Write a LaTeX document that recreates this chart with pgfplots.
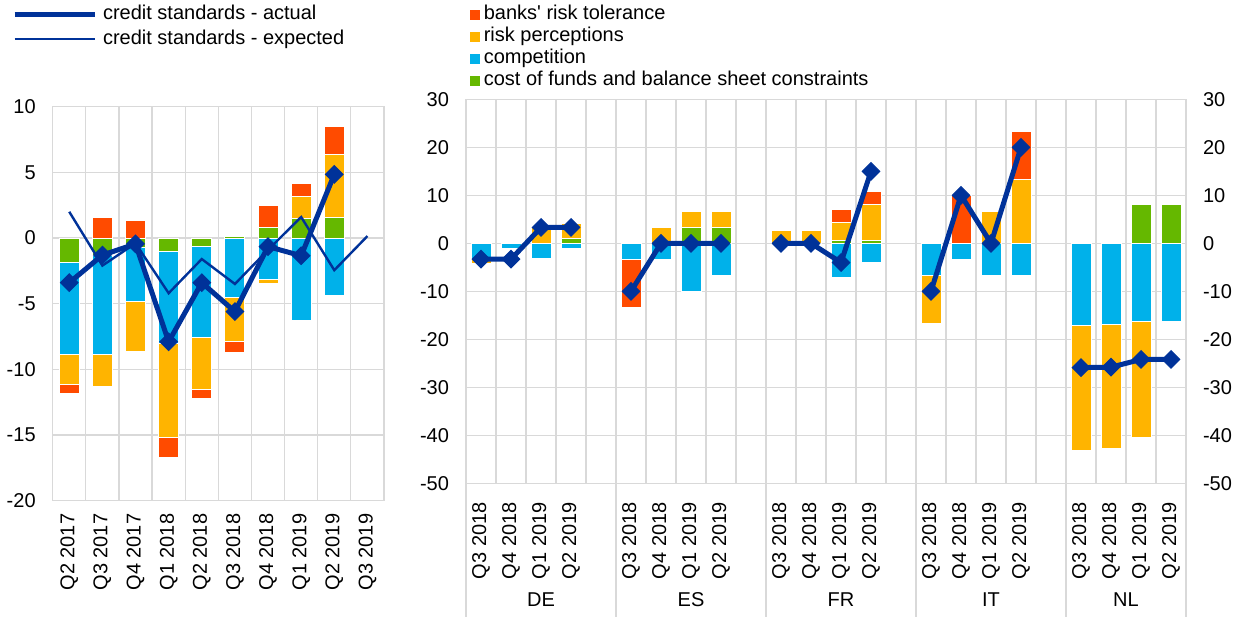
\documentclass[border=0pt]{standalone}
\usepackage{fontspec}
\setmainfont{Liberation Sans}
\newfontfamily\plainsans{Liberation Sans}
\usepackage{pgfplots}
\usepackage{pgfplotstable}
\pgfplotsset{compat=1.18}
\definecolor{ecbblue}{HTML}{003299}
\definecolor{ecbred}{HTML}{FF4B00}
\definecolor{ecbyellow}{HTML}{FFB400}
\definecolor{ecbcyan}{HTML}{00B1EA}
\definecolor{ecbgreen}{HTML}{65B800}
\definecolor{gridgray}{HTML}{D9D9D9}

% left panel: components split into negative (n) and positive (p) parts
\pgfplotstableread{
x Gn Bn Yn Rn Gp Bp Yp Rp
0 -1.9 -7.0 -2.25 -0.65 0 0 0 0
1 -1.3 -7.6 -2.4 0 0 0 0 1.6
2 -0.7 -4.1 -3.85 0 0 0 0 1.3
3 -1.0 -7.05 -7.1 -1.55 0 0 0 0
4 -0.65 -6.9 -3.95 -0.75 0 0 0 0
5 0 -4.5 -3.4 -0.85 0.15 0 0 0
6 0 -3.15 -0.33 0 0.8 0 0 1.65
7 0 -6.25 0 0 1.5 0 1.65 1.0
8 0 -4.4 0 0 1.6 0 4.75 2.15
}\leftdata
\pgfplotstableread{
x A E
0 -3.4 2.0
1 -1.3 -2.1
2 -0.45 -0.4
3 -7.9 -4.2
4 -3.4 -1.6
5 -5.6 -3.5
6 -0.65 -0.9
7 -1.35 1.6
8 4.85 -2.45
9 nan 0.15
}\leftline
% right panel
\pgfplotstableread{
x Gn Bn Yn Rn Gp Bp Yp Rp
0 0 -3.3 -0.9 0 0 0 0 0
1 0 -1.0 0 0 0 0 0 0
2 0 -3.2 0 0 0 0 3.3 0
3 0 -1.0 0 0 0.9 0 3.2 0
5 0 -3.3 0 -10.0 0 0 0 0
6 0 -3.3 0 0 0 0 3.3 0
7 0 -10.0 0 0 3.3 0 3.4 0
8 0 -6.7 0 0 3.3 0 3.4 0
10 0 0 0 0 0 0 2.6 0
11 0 0 0 0 0 0 2.6 0
12 0 -7.1 0 0 0.6 0 3.8 2.6
13 0 -4.1 0 0 0.6 0 7.5 2.6
15 0 -6.7 -10.0 0 0 0 0 0
16 0 -3.3 0 0 0 0 0 10.0
17 0 -6.7 0 0 0 0 6.7 0
18 0 -6.7 0 0 0 0 13.3 10.0
20 0 -17.2 -25.9 0 0 0 0 0
21 0 -17.0 -25.8 0 0 0 0 0
22 0 -16.2 -24.2 0 8.0 0 0 0
23 0 -16.2 0 0 8.0 0 0 0
}\rightdata
\pgfplotstableread{
x A
0 -3.3
1 -3.3
2 3.3
3 3.3
4 nan
5 -10
6 0
7 0
8 0
9 nan
10 0
11 0
12 -4.0
13 15.0
14 nan
15 -10
16 10
17 0
18 20
19 nan
20 -25.9
21 -25.8
22 -24.2
23 -24.2
}\rightline

\pgfplotsset{
  every axis/.append style={font=\fontsize{10}{12}\selectfont},
  leftgeom/.style={at={(26.35pt,58.15pt)}, anchor=south west, scale only axis,
    width=165.65pt, height=197pt, xmin=-0.5, xmax=9.5, ymin=-20, ymax=10},
  rightgeom/.style={at={(233pt,66.85pt)}, anchor=south west, scale only axis,
    width=360pt, height=192pt, xmin=-0.5, xmax=23.5, ymin=-50, ymax=30},
  barstyle/.style={draw=white, line width=0.5pt},
  actualstyle/.style={ecbblue, line width=2.5pt, mark=square*, mark size=3.1pt,
    mark options={rotate=45, solid, line width=0.5pt, fill=ecbblue}},
}

\begin{document}
\begin{tikzpicture}
\useasboundingbox (0,0) rectangle (620pt,308.5pt);
% ---------------- left panel ----------------
\begin{axis}[leftgeom, ybar stacked, bar width=10pt,
  ytick={-20,-15,-10,-5,0,5,10}, yticklabels={-20,-15,-10,-5,0,5,10},
  yticklabel style={xshift=-5pt},
  xtick={0,...,9},
  xticklabels={Q2 2017,Q3 2017,Q4 2017,Q1 2018,Q2 2018,Q3 2018,Q4 2018,Q1 2019,Q2 2019,Q3 2019},
  xticklabel style={rotate=90, anchor=east, xshift=-3pt},
  minor xtick={0.5,1.5,...,8.5}, xminorgrids, ymajorgrids,
  grid style={gridgray, line width=0.6pt}, minor grid style={gridgray, line width=0.6pt},
  axis line style={gridgray, line width=0.6pt},
  major tick length=0pt, minor tick length=0pt]
\addplot[barstyle, fill=ecbgreen] table[x=x,y=Gn]{\leftdata};
\addplot[barstyle, fill=ecbcyan] table[x=x,y=Bn]{\leftdata};
\addplot[barstyle, fill=ecbyellow] table[x=x,y=Yn]{\leftdata};
\addplot[barstyle, fill=ecbred] table[x=x,y=Rn]{\leftdata};
\end{axis}
\begin{axis}[leftgeom, hide axis, ybar stacked, bar width=10pt]
\addplot[barstyle, fill=ecbgreen] table[x=x,y=Gp]{\leftdata};
\addplot[barstyle, fill=ecbcyan] table[x=x,y=Bp]{\leftdata};
\addplot[barstyle, fill=ecbyellow] table[x=x,y=Yp]{\leftdata};
\addplot[barstyle, fill=ecbred] table[x=x,y=Rp]{\leftdata};
\end{axis}
\begin{axis}[leftgeom, hide axis,
  legend style={at={(-0.124,1.264)}, anchor=north west, draw=none, fill=none,
    inner sep=0pt, row sep=1.5pt, column sep=2.5pt,
    nodes={inner sep=0.5pt, text height=7.5pt, text depth=2.5pt}},
  legend cell align=left,
  legend image code/.code={\draw[#1] (0pt,0pt) -- (40pt,0pt);}]
\addplot[actualstyle] table[x=x,y=A]{\leftline};
\addlegendentry{credit standards - actual}
\addplot[ecbblue, line width=1.2pt] table[x=x,y=E]{\leftline};
\addlegendentry{credit standards - expected}
\end{axis}
% ---------------- right panel ----------------
\begin{axis}[rightgeom, ybar stacked, bar width=10pt, clip=false,
  ytick={-50,-40,...,30}, yticklabels={-50,-40,-30,-20,-10,0,10,20,30},
  yticklabel style={xshift=-5pt},
  xtick={0,1,2,3,5,6,7,8,10,11,12,13,15,16,17,18,20,21,22,23},
  xticklabels={Q3 2018,Q4 2018,Q1 2019,Q2 2019,Q3 2018,Q4 2018,Q1 2019,Q2 2019,Q3 2018,Q4 2018,Q1 2019,Q2 2019,Q3 2018,Q4 2018,Q1 2019,Q2 2019,Q3 2018,Q4 2018,Q1 2019,Q2 2019},
  xticklabel style={rotate=90, anchor=east, xshift=-6pt},
  extra x ticks={0.5,1.5,2.5,3.5,4.5,5.5,6.5,7.5,8.5,9.5,10.5,11.5,12.5,13.5,14.5,15.5,16.5,17.5,18.5,19.5,20.5,21.5,22.5},
  extra x tick labels={},
  extra x tick style={grid=major, major tick length=0pt},
  ymajorgrids,
  grid style={gridgray, line width=0.6pt},
  axis line style={gridgray, line width=0.6pt},
  major tick length=0pt, minor tick length=0pt]
\addplot[barstyle, fill=ecbgreen] table[x=x,y=Gn]{\rightdata};
\addplot[barstyle, fill=ecbcyan] table[x=x,y=Bn]{\rightdata};
\addplot[barstyle, fill=ecbyellow] table[x=x,y=Yn]{\rightdata};
\addplot[barstyle, fill=ecbred] table[x=x,y=Rn]{\rightdata};
\draw[gridgray, line width=0.6pt] (axis cs:-0.5,-50) -- ([yshift=-67pt]axis cs:-0.5,-50);
\draw[gridgray, line width=0.6pt] (axis cs:4.5,-50) -- ([yshift=-67pt]axis cs:4.5,-50);
\draw[gridgray, line width=0.6pt] (axis cs:9.5,-50) -- ([yshift=-67pt]axis cs:9.5,-50);
\draw[gridgray, line width=0.6pt] (axis cs:14.5,-50) -- ([yshift=-67pt]axis cs:14.5,-50);
\draw[gridgray, line width=0.6pt] (axis cs:19.5,-50) -- ([yshift=-67pt]axis cs:19.5,-50);
\draw[gridgray, line width=0.6pt] (axis cs:23.5,-50) -- ([yshift=-67pt]axis cs:23.5,-50);
\node at (axis cs:2,-50) [yshift=-58.35pt] {DE};
\node at (axis cs:7,-50) [yshift=-58.35pt] {ES};
\node at (axis cs:12,-50) [yshift=-58.35pt] {FR};
\node at (axis cs:17,-50) [yshift=-58.35pt] {IT};
\node at (axis cs:21.5,-50) [yshift=-58.35pt] {NL};
\end{axis}
\begin{axis}[rightgeom, ybar stacked, bar width=10pt,
  axis x line=none, axis y line*=right, y axis line style={draw=none},
  ytick={-50,-40,...,30}, yticklabels={-50,-40,-30,-20,-10,0,10,20,30},
  yticklabel style={xshift=5pt}, major tick length=0pt]
\addplot[barstyle, fill=ecbgreen] table[x=x,y=Gp]{\rightdata};
\addplot[barstyle, fill=ecbcyan] table[x=x,y=Bp]{\rightdata};
\addplot[barstyle, fill=ecbyellow] table[x=x,y=Yp]{\rightdata};
\addplot[barstyle, fill=ecbred] table[x=x,y=Rp]{\rightdata};
\end{axis}
\begin{axis}[rightgeom, hide axis, unbounded coords=jump,
  legend style={at={(0.005,1.25)}, anchor=north west, draw=none, fill=none,
    inner sep=0pt, row sep=0pt, column sep=1.5pt,
    nodes={inner sep=0.5pt, text height=7.5pt, text depth=2.5pt}},
  legend cell align=left]
\addplot[actualstyle, forget plot] table[x=x,y=A]{\rightline};
\addlegendimage{legend image code/.code={\fill[ecbred] (0pt,-2.5pt) rectangle (4.5pt,2pt);}}
\addlegendentry{banks{\plainsans '} risk tolerance}
\addlegendimage{legend image code/.code={\fill[ecbyellow] (0pt,-2.5pt) rectangle (4.5pt,2pt);}}
\addlegendentry{risk perceptions}
\addlegendimage{legend image code/.code={\fill[ecbcyan] (0pt,-2.5pt) rectangle (4.5pt,2pt);}}
\addlegendentry{competition}
\addlegendimage{legend image code/.code={\fill[ecbgreen] (0pt,-2.5pt) rectangle (4.5pt,2pt);}}
\addlegendentry{cost of funds and balance sheet constraints}
\end{axis}
\end{tikzpicture}
\end{document}
